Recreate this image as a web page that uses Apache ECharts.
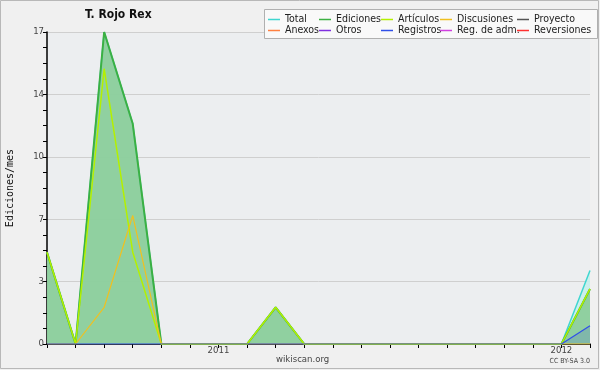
<!DOCTYPE html>
<html>
<head>
<meta charset="utf-8">
<script src="https://cdn.jsdelivr.net/npm/echarts@6/dist/echarts.min.js"></script>
<style>
  html, body { margin: 0; padding: 0; background: #f0f0f0; }
  #chart { width: 600px; height: 370px; }
</style>
</head>
<body>
<div id="chart"></div>
<script>
// months jul 2010 .. feb 2012
const months = [
  "2010-07", "2010-08", "2010-09", "2010-10", "2010-11", "2010-12",
  "2011-01", "2011-02", "2011-03", "2011-04", "2011-05", "2011-06",
  "2011-07", "2011-08", "2011-09", "2011-10", "2011-11", "2011-12",
  "2012-01", "2012-02"
];
const total = [5, 0, 17, 12, 0, 0, 0, 0, 2, 0, 0, 0, 0, 0, 0, 0, 0, 0, 0, 4];
const ediciones = [5, 0, 17, 12, 0, 0, 0, 0, 2, 0, 0, 0, 0, 0, 0, 0, 0, 0, 0, 3];
const articulos = [5, 0, 15, 5, 0, 0, 0, 0, 2, 0, 0, 0, 0, 0, 0, 0, 0, 0, 0, 3];
const discusiones = [0, 0, 2, 7, 0, 0, 0, 0, 0, 0, 0, 0, 0, 0, 0, 0, 0, 0, 0, 0];
const registros = [0, 0, 0, 0, 0, 0, 0, 0, 0, 0, 0, 0, 0, 0, 0, 0, 0, 0, 0, 1];
const yMax = 17;

const legendCols = [
  ["Total", "Anexos"],
  ["Ediciones", "Otros"],
  ["Artículos", "Registros"],
  ["Discusiones", "Reg. de adm."],
  ["Proyecto", "Reversiones"]
];
const legendLeft = [268, 319, 381, 440, 517];

const font = "DejaVu Sans Condensed";
const chart = echarts.init(document.getElementById("chart"));

function line(name, data, color, width, areaColor) {
  const s = {
    name: name,
    type: "line",
    data: data,
    symbol: "none",
    color: color,
    lineStyle: { color: color, width: width },
    emphasis: { disabled: true }
  };
  if (areaColor) s.areaStyle = { color: areaColor, opacity: 1 };
  return s;
}

const option = {
  animation: false,
  backgroundColor: "#f0f0f0",
  textStyle: { fontFamily: font },
  title: {
    text: "T. Rojo Rex",
    left: 85,
    top: 9,
    padding: 0,
    textStyle: { fontFamily: font, fontWeight: "bold", fontSize: 12, color: "#111" }
  },
  legend: legendCols.map((col, i) => ({
    data: col,
    orient: "vertical",
    left: legendLeft[i],
    top: 14,
    padding: 0,
    itemGap: 0,
    itemWidth: 12,
    itemHeight: 1.5,
    icon: "rect",
    selectedMode: false,
    z: 11,
    textStyle: { fontFamily: font, fontSize: 10.5, color: "#222", lineHeight: 10 }
  })),
  grid: { left: 47, right: 10, top: 32, bottom: 26, outerBoundsMode: "none" },
  xAxis: {
    type: "category",
    data: months,
    boundaryGap: false,
    axisLine: { lineStyle: { color: "#000", width: 1.5 } },
    axisTick: { interval: 0, length: 4, lineStyle: { color: "#000" } },
    axisLabel: {
      interval: 0,
      color: "#444",
      fontSize: 9.5,
      margin: 2,
      formatter: v => (v.slice(5) === "01" ? v.slice(0, 4) : "")
    },
    splitLine: { show: false }
  },
  yAxis: {
    type: "value",
    min: 0,
    max: yMax,
    interval: yMax / 5,
    name: "Ediciones/mes",
    nameLocation: "middle",
    nameGap: 32,
    nameTextStyle: { fontFamily: "DejaVu Sans Mono", fontSize: 10, color: "#111" },
    axisLine: { show: true, lineStyle: { color: "#000", width: 1.5 } },
    axisTick: { show: true, length: 4, lineStyle: { color: "#000" } },
    minorTick: { show: true, splitNumber: 4, length: 4, lineStyle: { color: "#000" } },
    axisLabel: { color: "#444", fontSize: 9.5, margin: 3, formatter: v => Math.round(v) },
    splitLine: { lineStyle: { color: "#cfcfcf", width: 1 } }
  },
  graphic: [
    {
      type: "rect",
      shape: { x: 0.5, y: 0.5, width: 598, height: 368 },
      style: { fill: null, stroke: "#b8b8b8", lineWidth: 1 },
      z: 0
    },
    {
      type: "rect",
      shape: { x: 47, y: 32, width: 543, height: 312 },
      style: { fill: "#eceef0" },
      z: -1
    },
    {
      type: "rect",
      shape: { x: 264.5, y: 9.5, width: 333, height: 29 },
      style: { fill: "#f9f9f9", stroke: "#b0b0b0", lineWidth: 1 },
      z: 10
    },
    {
      type: "text",
      left: 276,
      top: 355,
      style: { text: "wikiscan.org", fontSize: 9.5, fill: "#444", fontFamily: font }
    },
    {
      type: "text",
      right: 10,
      top: 358,
      style: { text: "CC BY-SA 3.0", fontSize: 7, fill: "#444", fontFamily: font }
    }
  ],
  series: [
    line("Total", total, "#3fd6d0", 1.5, "rgba(200,238,236,0.9)"),
    line("Ediciones", ediciones, "#3cb043", 2, "rgba(120,196,130,0.72)"),
    line("Artículos", articulos, "#b4f000", 1.5),
    line("Discusiones", discusiones, "#f0c020", 1.2),
    line("Proyecto", [], "#555555", 1.5),
    line("Anexos", [], "#ff8040", 1.5),
    line("Otros", [], "#8030e0", 1.5),
    line("Registros", registros, "#3050e8", 1.2, "rgba(80,110,200,0.25)"),
    line("Reg. de adm.", [], "#d040e0", 1.5),
    line("Reversiones", [], "#ff3030", 1.5)
  ]
};
chart.setOption(option);
</script>
</body>
</html>
